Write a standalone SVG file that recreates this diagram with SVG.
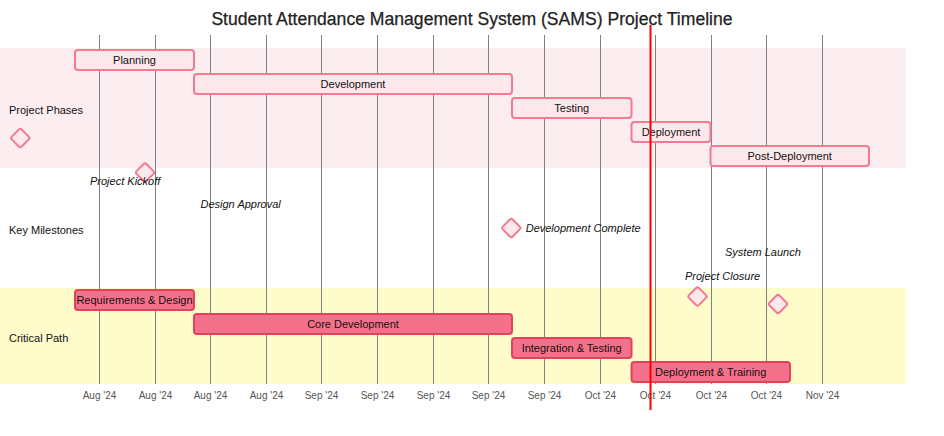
<svg xmlns="http://www.w3.org/2000/svg" width="944" height="436" viewBox="0 0 944 436">
<style>
text{font-family:"Liberation Sans",Arial,sans-serif}
.title{font-size:17.6px;fill:#222;text-anchor:middle;stroke:#222;stroke-width:0.25}
.sec{font-size:11px;fill:#111}
.tick{font-size:10px;fill:#555;text-anchor:middle}
.grid{stroke:#808080;stroke-width:1}
.task{fill:#fde8ec;stroke:#f27a92;stroke-width:2}
.crit{fill:#f4718b;stroke:#e0435d;stroke-width:2}
.tt{font-size:11px;fill:#111;text-anchor:middle}
.ms{fill:#fde8ec;stroke:#f27a92;stroke-width:2}
.mt{font-size:11px;fill:#111;font-style:italic}
</style>
<rect width="944" height="436" fill="#fff"/>
<text class="title" x="472" y="25">Student Attendance Management System (SAMS) Project Timeline</text>
<g id="sections">
<rect x="0" y="48" width="906" height="120" fill="#fcedf0"/>
<rect x="0" y="168" width="906" height="120" fill="#ffffff"/>
<rect x="0" y="288" width="906" height="96" fill="#fffccc"/>
<text class="sec" x="9" y="114">Project Phases</text>
<text class="sec" x="9" y="234">Key Milestones</text>
<text class="sec" x="9" y="342">Critical Path</text>
</g>
<g id="grid">
<line class="grid" x1="99.5" y1="35" x2="99.5" y2="384"/>
<line class="grid" x1="155.5" y1="35" x2="155.5" y2="384"/>
<line class="grid" x1="210.5" y1="35" x2="210.5" y2="384"/>
<line class="grid" x1="266.5" y1="35" x2="266.5" y2="384"/>
<line class="grid" x1="321.5" y1="35" x2="321.5" y2="384"/>
<line class="grid" x1="377.5" y1="35" x2="377.5" y2="384"/>
<line class="grid" x1="433.5" y1="35" x2="433.5" y2="384"/>
<line class="grid" x1="488.5" y1="35" x2="488.5" y2="384"/>
<line class="grid" x1="544.5" y1="35" x2="544.5" y2="384"/>
<line class="grid" x1="600.5" y1="35" x2="600.5" y2="384"/>
<line class="grid" x1="655.5" y1="35" x2="655.5" y2="384"/>
<line class="grid" x1="711.5" y1="35" x2="711.5" y2="384"/>
<line class="grid" x1="766.5" y1="35" x2="766.5" y2="384"/>
<line class="grid" x1="822.5" y1="35" x2="822.5" y2="384"/>
<text class="tick" x="99.5" y="399">Aug '24</text>
<text class="tick" x="155.5" y="399">Aug '24</text>
<text class="tick" x="210.5" y="399">Aug '24</text>
<text class="tick" x="266.5" y="399">Aug '24</text>
<text class="tick" x="321.5" y="399">Sep '24</text>
<text class="tick" x="377.5" y="399">Sep '24</text>
<text class="tick" x="433.5" y="399">Sep '24</text>
<text class="tick" x="488.5" y="399">Sep '24</text>
<text class="tick" x="544.5" y="399">Sep '24</text>
<text class="tick" x="600.5" y="399">Oct '24</text>
<text class="tick" x="655.5" y="399">Oct '24</text>
<text class="tick" x="711.5" y="399">Oct '24</text>
<text class="tick" x="766.5" y="399">Oct '24</text>
<text class="tick" x="822.5" y="399">Nov '24</text>
</g>
<g id="planning"><rect class="task" x="75" y="50" width="119" height="20" rx="3"/><text class="tt" x="134.5" y="64">Planning</text></g>
<g id="development"><rect class="task" x="194" y="74" width="318" height="20" rx="3"/><text class="tt" x="353" y="88">Development</text></g>
<g id="testing"><rect class="task" x="512" y="98" width="119.5" height="20" rx="3"/><text class="tt" x="571.7" y="112">Testing</text></g>
<g id="deployment"><rect class="task" x="631.5" y="122" width="79" height="20" rx="3"/><text class="tt" x="671" y="136">Deployment</text></g>
<g id="post-deployment"><rect class="task" x="710.5" y="146" width="158.5" height="20" rx="3"/><text class="tt" x="789.7" y="160">Post-Deployment</text></g>
<g id="phase-milestone"><rect class="ms" x="13.3" y="131" width="14" height="14" rx="2" transform="rotate(45 20.3 138)"/></g>
<g id="project-kickoff"><rect class="ms" x="138" y="165.5" width="14" height="14" rx="2" transform="rotate(45 145 172.5)"/><text class="mt" x="90" y="184.5">Project Kickoff</text></g>
<g id="design-approval"><text class="mt" x="200.5" y="208">Design Approval</text></g>
<g id="development-complete"><rect class="ms" x="504.3" y="221" width="14" height="14" rx="2" transform="rotate(45 511.3 228)"/><text class="mt" x="525.7" y="232">Development Complete</text></g>
<g id="system-launch"><rect class="ms" x="771" y="297" width="14" height="14" rx="2" transform="rotate(45 778 304)"/><text class="mt" x="725" y="256">System Launch</text></g>
<g id="project-closure"><rect class="ms" x="690.5" y="289.5" width="14" height="14" rx="2" transform="rotate(45 697.5 296.5)"/><text class="mt" x="685" y="280">Project Closure</text></g>
<g id="requirements-design"><rect class="crit" x="75" y="290" width="119" height="20" rx="3"/><text class="tt" x="134.5" y="304">Requirements &amp; Design</text></g>
<g id="core-development"><rect class="crit" x="194" y="314" width="318" height="20" rx="3"/><text class="tt" x="353" y="328">Core Development</text></g>
<g id="integration-testing"><rect class="crit" x="512" y="338" width="119.5" height="20" rx="3"/><text class="tt" x="571.7" y="352">Integration &amp; Testing</text></g>
<g id="deployment-training"><rect class="crit" x="631.5" y="362" width="158.5" height="20" rx="3"/><text class="tt" x="710.7" y="376">Deployment &amp; Training</text></g>
<g id="connectors"><line x1="650.5" y1="25" x2="650.5" y2="410" stroke="#ff0000" stroke-width="2"/></g>
</svg>
